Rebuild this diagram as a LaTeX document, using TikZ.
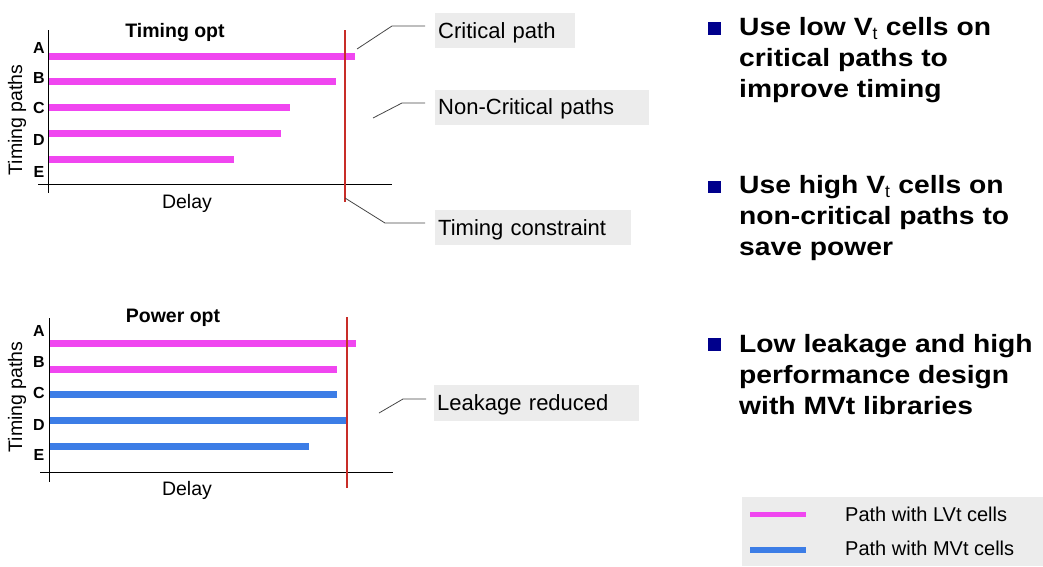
\documentclass[tikz,border=0pt]{standalone}
\usepackage{fontspec}
\setmainfont{Liberation Sans}
\newfontfamily\bulletfont[FakeStretch=1.13]{Liberation Sans Bold}
\usetikzlibrary{arrows,calc,positioning}

\definecolor{lvtpink}{RGB}{240,70,240}
\definecolor{mvtblue}{RGB}{60,125,230}
\definecolor{limitred}{RGB}{200,45,40}
\definecolor{boxgray}{RGB}{236,236,236}
\definecolor{leadgray}{RGB}{70,70,70}
\definecolor{bulletblue}{RGB}{0,0,140}

\tikzset{
  axis/.style={draw=black, line width=1pt},
  limit/.style={draw=limitred, line width=1.3pt},
  lvtbar/.style={draw=lvtpink, line width=7pt},
  mvtbar/.style={draw=mvtblue, line width=7pt},
  pathlabel/.style={inner sep=0pt, font=\bfseries\fontsize{16}{16}\selectfont},
  charttitle/.style={inner sep=0pt, font=\bfseries\fontsize{19.5}{20}\selectfont},
  axislabel/.style={inner sep=0pt, font=\fontsize{19.5}{20}\selectfont},
  callout/.style={fill=boxgray, anchor=west, align=left, inner xsep=3pt,
                  inner ysep=0pt, minimum height=35pt, text depth=0pt,
                  font=\fontsize{22}{24}\selectfont},
  leader/.style={draw=leadgray, line width=0.8pt},
  bulletsq/.style={fill=bulletblue, minimum size=12.5pt, inner sep=0pt},
  bullettext/.style={anchor=north west, align=left, inner sep=0pt,
                     font=\bulletfont\fontsize{25}{31}\selectfont},
  legendtext/.style={anchor=west, inner sep=0pt, font=\fontsize{20}{22}\selectfont},
}
\newcommand{\vtsub}{\textsubscript{\normalfont t}}

\begin{document}
\begin{tikzpicture}[x=1pt,y=-1pt]
  \useasboundingbox (0,0) rectangle (1043,566) ;
%
% timing opt chart
%
  \coordinate (tyt) at (48,30) ;
  \coordinate (tyb) at (48,193) ;
  \coordinate (txl) at (38,184) ;
  \coordinate (txr) at (392,184) ;
  \coordinate (tlt) at (345,30) ;
  \coordinate (tlb) at (345,202) ;
%
  \draw [lvtbar] (48,56) -- (355,56) coordinate (tA) ;
  \draw [lvtbar] (48,81) -- (336,81) coordinate (tB) ;
  \draw [lvtbar] (48,107) -- (290,107) coordinate (tC) ;
  \draw [lvtbar] (48,133) -- (281,133) coordinate (tD) ;
  \draw [lvtbar] (48,159) -- (234,159) coordinate (tE) ;
%
  \draw [axis] (tyt) -- (tyb) ;
  \draw [axis] (txl) -- (txr) ;
  \draw [limit] (tlt) -- (tlb) ;
%
  \node [pathlabel] (tla) at (39,48) {A} ;
  \node [pathlabel] (tlbb) at (39,78) {B} ;
  \node [pathlabel] (tlc) at (39,108) {C} ;
  \node [pathlabel] (tld) at (39,140) {D} ;
  \node [pathlabel] (tle) at (39,172) {E} ;
%
  \node [charttitle] (ttitle) at (175,32) {Timing opt} ;
  \node [axislabel] (tdelay) at (187,203) {Delay} ;
  \node [axislabel,rotate=90] (tpaths) at (17,120) {Timing paths} ;
%
  \node [callout,text width=134pt] (crit) at (435,30.5) {Critical path} ;
  \node [callout,text width=208pt] (noncrit) at (435,107) {Non-Critical paths} ;
  \node [callout,text width=190pt] (constr) at (435,227.5) {Timing constraint} ;
%
  \coordinate (critend) at (357,49) ;
  \coordinate (ncend) at (373,118) ;
  \coordinate (limend) at (345,198) ;
  \draw [leader] (critend) -- ($(crit.west)+(-43,-4.5)$) -- ($(crit.west)+(-10,-4.5)$) ;
  \draw [leader] (ncend) -- ($(noncrit.west)+(-33,-4)$) -- ($(noncrit.west)+(-10,-4)$) ;
  \draw [leader] (limend) -- ($(constr.west)+(-50,-4.5)$) -- ($(constr.west)+(-10,-4.5)$) ;
%
% power opt chart
%
  \coordinate (pyt) at (49,318) ;
  \coordinate (pyb) at (49,482) ;
  \coordinate (pxl) at (40,472) ;
  \coordinate (pxr) at (393,472) ;
  \coordinate (plt) at (347,317) ;
  \coordinate (plb) at (347,488) ;
%
  \draw [lvtbar] (49,343) -- (356,343) coordinate (pA) ;
  \draw [lvtbar] (49,369) -- (337,369) coordinate (pB) ;
  \draw [mvtbar] (49,394) -- (337,394) coordinate (pC) ;
  \draw [mvtbar] (49,420) -- (347,420) coordinate (pD) ;
  \draw [mvtbar] (49,446) -- (309,446) coordinate (pE) ;
%
  \draw [axis] (pyt) -- (pyb) ;
  \draw [axis] (pxl) -- (pxr) ;
  \draw [limit] (plt) -- (plb) ;
%
  \node [pathlabel] (pla) at (39,331) {A} ;
  \node [pathlabel] (plbb) at (39,362) {B} ;
  \node [pathlabel] (plc) at (39,393) {C} ;
  \node [pathlabel] (pld) at (39,425) {D} ;
  \node [pathlabel] (ple) at (39,455) {E} ;
%
  \node [charttitle] (ptitle) at (173,318) {Power opt} ;
  \node [axislabel] (pdelay) at (187,490) {Delay} ;
  \node [axislabel,rotate=90] (ppaths) at (17,397) {Timing paths} ;
%
  \node [callout,text width=199pt,minimum height=36pt] (leak) at (434,403) {Leakage reduced} ;
  \coordinate (leakend) at (379,413) ;
  \draw [leader] (leakend) -- ($(leak.west)+(-31,-4)$) -- ($(leak.west)+(-8,-4)$) ;
%
% bullets
%
  \node [bulletsq] (bone) at (714.5,28.5) {} ;
  \node [bulletsq] (btwo) at (714.5,187) {} ;
  \node [bulletsq] (bthree) at (714.5,344.5) {} ;
%
  \node [bullettext] (tone) at (739,17) {Use low V\vtsub{} cells on\\critical paths to\\improve timing} ;
  \node [bullettext] (ttwo) at (739,175) {Use high V\vtsub{} cells on\\non-critical paths to\\save power} ;
  \node [bullettext] (tthree) at (739,334) {Low leakage and high\\performance design\\with MVt libraries} ;
%
% legend
%
  \fill [boxgray] (742,497) rectangle (1043,566) ;
  \coordinate (lgone) at (750,514) ;
  \coordinate (lgtwo) at (750,550) ;
  \draw [draw=lvtpink,line width=5pt] (lgone) -- ++(56,0) ;
  \draw [draw=mvtblue,line width=6pt] (lgtwo) -- ++(56,0) ;
  \node [legendtext] (lvtkey) at (845,514) {Path with LVt cells} ;
  \node [legendtext] (mvtkey) at (845,548) {Path with MVt cells} ;
\end{tikzpicture}
\end{document}
